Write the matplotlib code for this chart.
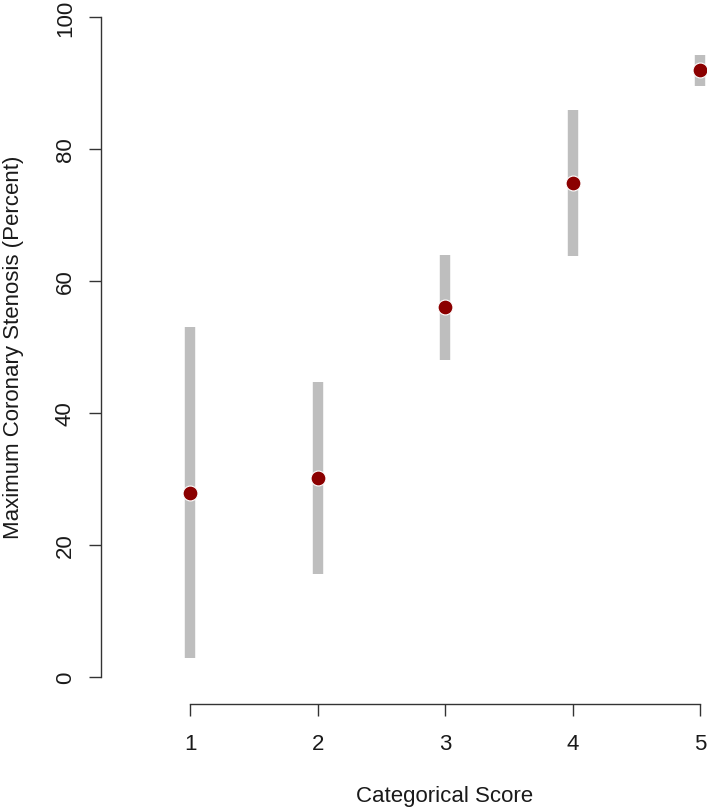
import matplotlib
matplotlib.use("Agg")
import matplotlib.pyplot as plt

plt.rcParams['font.family'] = ['Liberation Sans', 'DejaVu Sans']

# values
score = [1, 2, 3, 4, 5]
median = [27.8, 30.1, 56.0, 74.9, 91.9]
lower = [2.9, 15.6, 48.0, 63.8, 89.5]
upper = [53.0, 44.7, 63.9, 85.9, 94.2]
x_ticks = [1, 2, 3, 4, 5]
y_ticks = [0, 20, 40, 60, 80, 100]

# figure in pixels, axes placed like the R base plot
W, H = 707, 812
fig = plt.figure(figsize=(W / 100, H / 100), dpi=100)
ax = fig.add_axes([101 / W, (H - 705) / H, 1 - 101 / W, (705 - 18) / H])

# ranges as thick grey bars, medians as dark red dots
ax.vlines(score, lower, upper, colors='#bebebe', linewidth=7.5, zorder=1)
ax.scatter(score, median, s=115, color='#8b0000', edgecolors='white',
           linewidths=0.8, zorder=2, clip_on=False)

ax.set_xlim(0.30, 5.055)
ax.set_ylim(-4.1, 100)
ax.set_xticks(x_ticks)
ax.set_yticks(y_ticks)
ax.set_yticklabels([str(v) for v in y_ticks], rotation=90, va='center')

# R style axes: only left and bottom, limited to the tick range
for s in ['top', 'right']:
    ax.spines[s].set_visible(False)
ax.spines['left'].set_bounds(0, 100)
ax.spines['bottom'].set_bounds(1, 5)
for s in ['left', 'bottom']:
    ax.spines[s].set_color('#333333')
    ax.spines[s].set_linewidth(1.0)

ax.tick_params(direction='out', length=8.6, width=1.0, color='#333333',
               labelsize=16, labelcolor='#1a1a1a')
ax.tick_params(axis='x', pad=12)
ax.tick_params(axis='y', pad=9.5)

ax.set_xlabel('Categorical Score', fontsize=16, color='#1a1a1a')
ax.set_ylabel('Maximum Coronary Stenosis (Percent)', fontsize=16, color='#1a1a1a')
ax.xaxis.set_label_coords((445 - 101) / 606, -0.118)
ax.yaxis.set_label_coords(-0.127, (705 - 347) / 687)

fig.savefig('out.png', dpi=100)
